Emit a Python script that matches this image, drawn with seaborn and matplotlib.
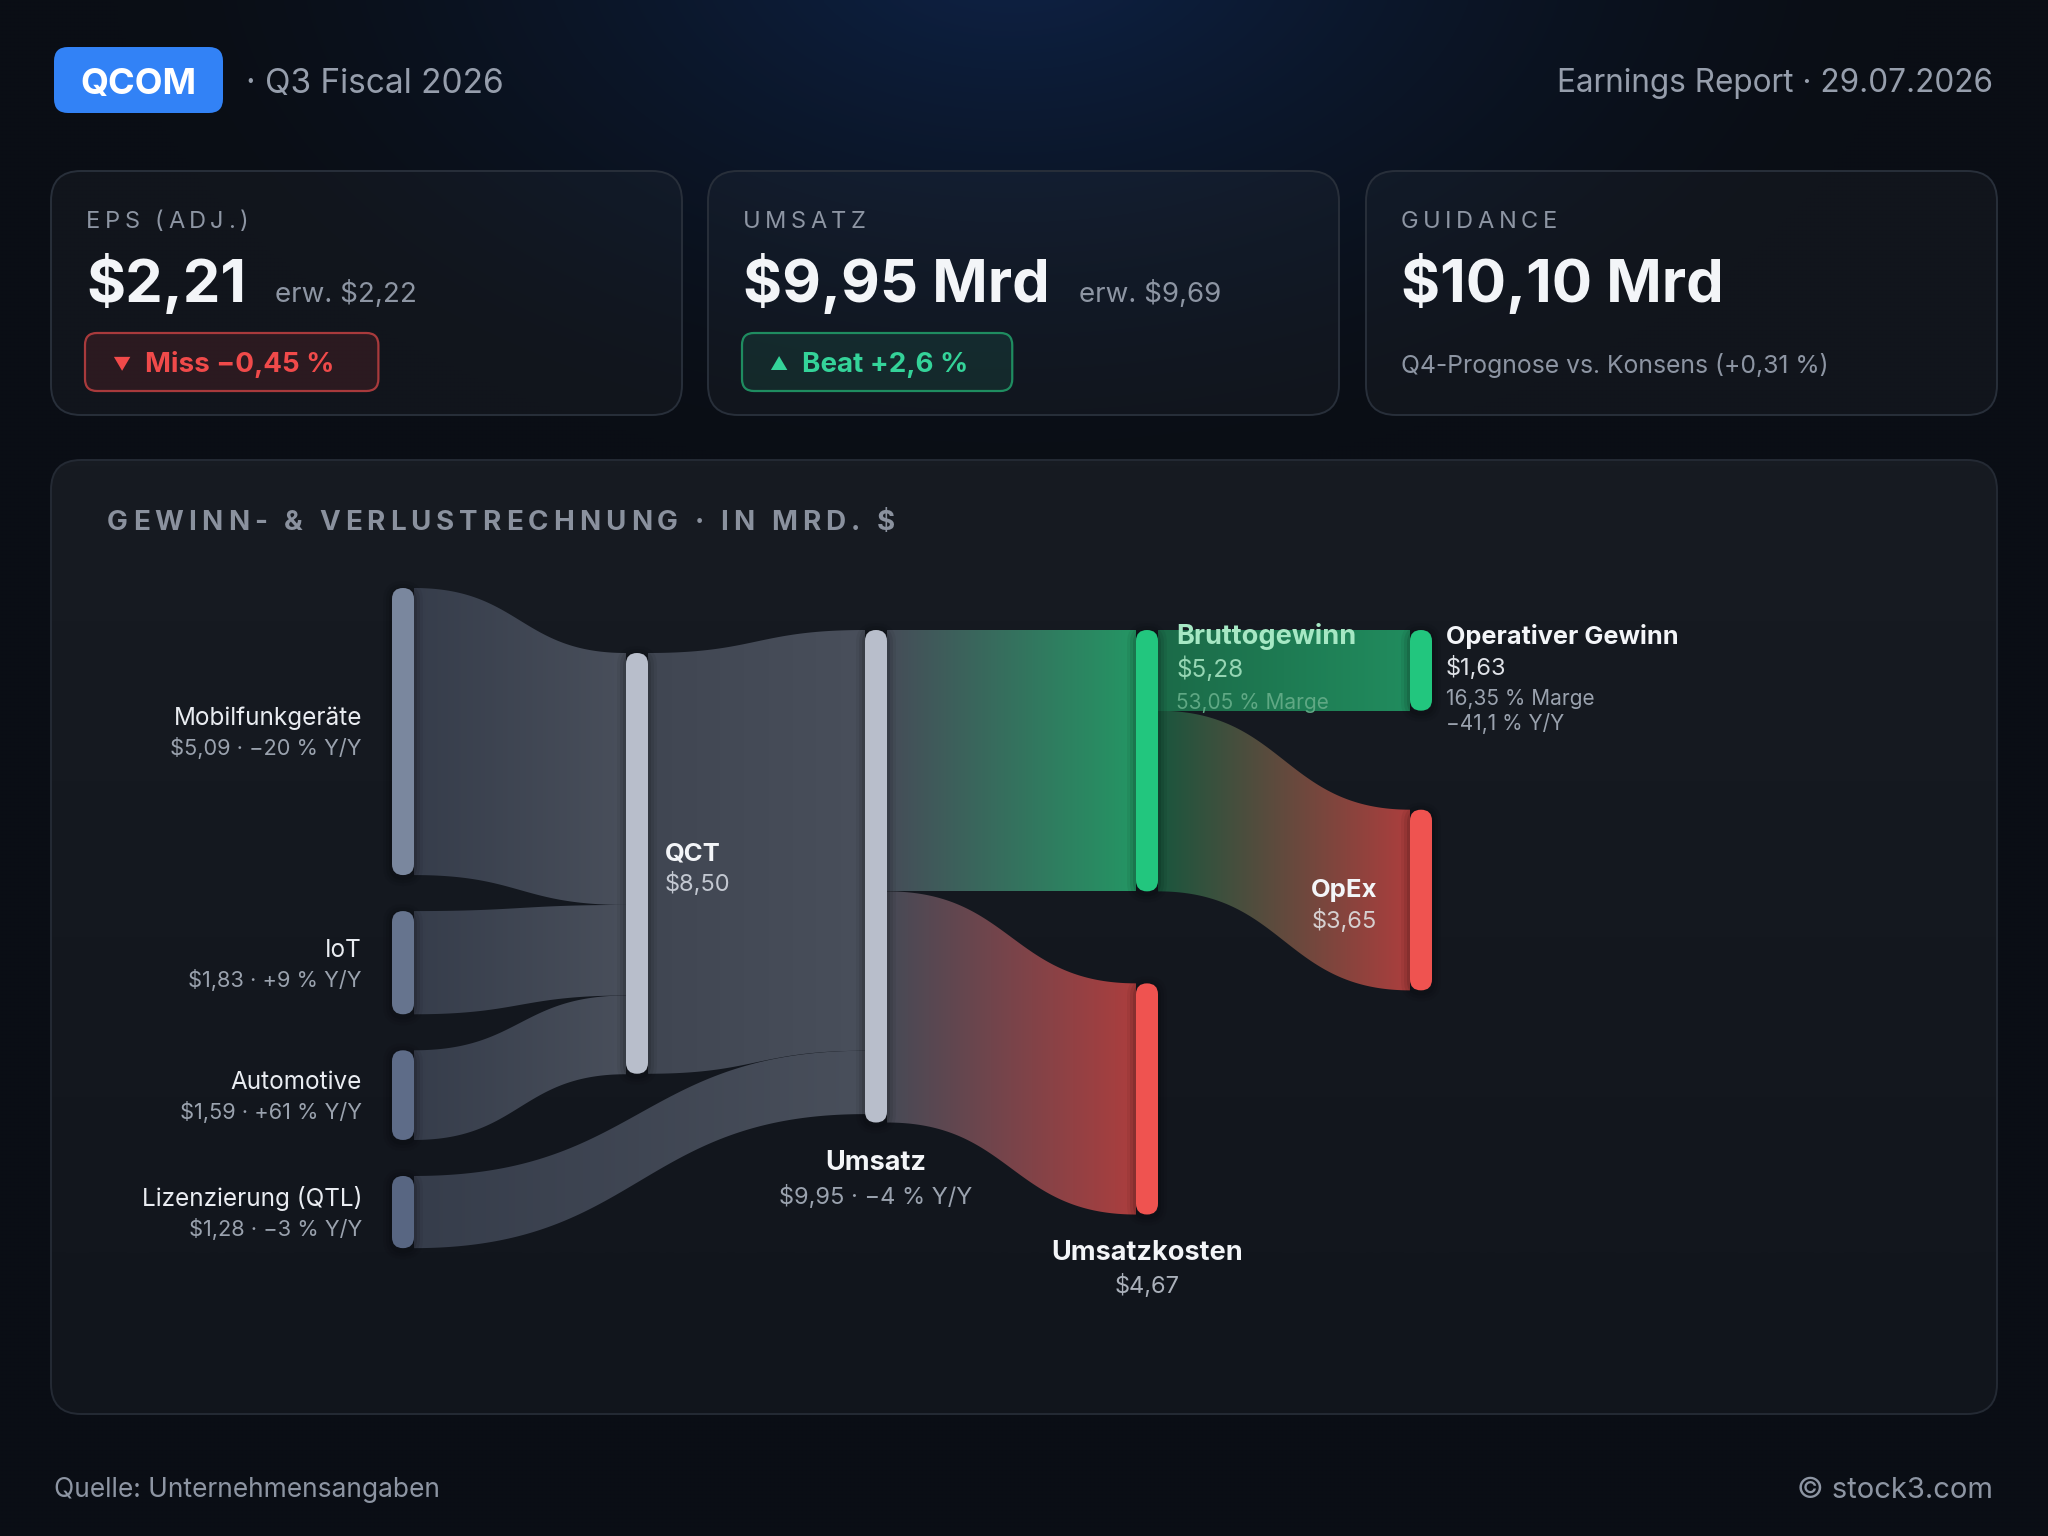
import numpy as np
import matplotlib
matplotlib.use("Agg")
import matplotlib.pyplot as plt
import seaborn as sns
from matplotlib.patches import FancyBboxPatch, Polygon
from matplotlib.font_manager import FontProperties

# ---------------- data ----------------
ticker = "QCOM"
period = "· Q3 Fiscal 2026"
report = "Earnings Report · 29.07.2026"

kpi_titles = ["EPS (ADJ.)", "UMSATZ", "GUIDANCE"]
kpi_values = ["$2,21", "$9,95 Mrd", "$10,10 Mrd"]
kpi_expected = ["erw. $2,22", "erw. $9,69", ""]
kpi_badge_text = ["Miss −0,45 %", "Beat +2,6 %", ""]
kpi_badge_kind = ["miss", "beat", ""]
guidance_note = "Q4-Prognose vs. Konsens (+0,31 %)"

panel_title = "GEWINN- & VERLUSTRECHNUNG · IN MRD. $"

segments = ["Mobilfunkgeräte", "IoT", "Automotive", "Lizenzierung (QTL)"]
segment_values = [5.09, 1.83, 1.59, 1.28]
segment_yoy = ["−20 % Y/Y", "+9 % Y/Y", "+61 % Y/Y", "−3 % Y/Y"]
segment_target = ["QCT", "QCT", "QCT", "Umsatz"]

qct_value = 8.50
revenue = 9.95
revenue_yoy = "−4 % Y/Y"
gross_profit = 5.28
gross_margin = "53,05 % Marge"
cost_of_revenue = 4.67
operating_profit = 1.63
operating_margin = "16,35 % Marge"
operating_yoy = "−41,1 % Y/Y"
opex = 3.65

source_note = "Quelle: Unternehmensangaben"
copyright_note = "© stock3.com"


def money(v):
    return ("$%.2f" % v).replace(".", ",")


# ---------------- style ----------------
sns.set_theme(style="dark")
FAM = ["Inter", "DejaVu Sans"]
plt.rcParams["font.family"] = FAM
plt.rcParams["axes.unicode_minus"] = False

W, H = 2048, 1536
fig = plt.figure(figsize=(W / 100, H / 100), dpi=100)
ax = fig.add_axes([0, 0, 1, 1])
ax.set_xlim(0, W)
ax.set_ylim(H, 0)
ax.axis("off")
ax.set_autoscale_on(False)
renderer = fig.canvas.get_renderer()
PT = 100 / 72.0

WHITE = "#f3f5f8"
GRAY = "#969eac"
LABEL = "#e9ecf1"
VAL = "#9aa2ae"


def c255(*c):
    return tuple(v / 255 for v in c)


# background with blue glow at the top
yy, xx = np.mgrid[0:H:4, 0:W:4]
base = np.array([10, 14, 21]) / 255
glow = np.array([14, 35, 72]) / 255
d = np.sqrt(((xx - 1010) / 900.0) ** 2 + ((yy + 60) / 540.0) ** 2)
wgt = np.clip(1 - d, 0, 1) ** 1.5
img = base[None, None, :] * (1 - wgt[..., None]) + glow[None, None, :] * wgt[..., None]
ax.imshow(img, extent=[0, W, H, 0], zorder=0, interpolation="bilinear", aspect="auto")


def text_width(s, size, weight="normal"):
    fp = FontProperties(family=FAM, size=size, weight=weight)
    w0 = renderer.get_text_width_height_descent("||", fp, ismath=False)[0]
    w1 = renderer.get_text_width_height_descent("|" + s + "|", fp, ismath=False)[0]
    return w1 - w0


def txt(x, y, s, size, color, weight="normal", ha="left", z=20, alpha=1):
    baseline = y + 0.727 * size * PT / 2
    return ax.text(x, baseline, s, fontsize=size, color=color, fontweight=weight,
                   ha=ha, va="baseline", zorder=z, parse_math=False, family=FAM, alpha=alpha)


def tracked(x, y, s, size, color, track_em, weight="normal"):
    cx = x
    tr = track_em * size * PT
    for ch in s:
        if ch != " ":
            txt(cx, y, ch, size, color, weight)
        cx += text_width(ch, size, weight) + tr


def rbox(x, y, w, h, r, fc="none", ec="none", lw=0, z=1, alpha=1):
    p = FancyBboxPatch((x, y), w, h, boxstyle="round,pad=0,rounding_size=%g" % r,
                       fc=fc, ec=ec, lw=lw, zorder=z, alpha=alpha)
    ax.add_patch(p)
    return p


def grad_fill(patch, x0, x1, y0, y1, c0, c1, z, alpha=1, vertical=False):
    cmap = sns.blend_palette([c0, c1], n_colors=256, as_cmap=True)
    g = np.linspace(0, 1, 256)
    g = g[:, None] if vertical else g[None, :]
    im = ax.imshow(g, cmap=cmap, vmin=0, vmax=1, extent=[x0, x1, y1, y0], aspect="auto",
                   zorder=z, interpolation="bilinear", alpha=alpha)
    im.set_clip_path(patch)


# ---------------- header ----------------
rbox(54, 47, 169, 66, 14, fc="#3282f6", z=5)
txt(138.5, 80.5, ticker, 26, "white", weight="bold", ha="center")
txt(246, 81, period, 24, GRAY)
txt(1993, 81, report, 22.7, GRAY, ha="right")

# ---------------- KPI cards ----------------
card_x = [51, 708, 1366]
card_w = 631
for i in range(3):
    x0 = card_x[i]
    rbox(x0, 171, card_w, 244, 30, fc="white", alpha=0.03, z=2)
    rbox(x0, 171, card_w, 244, 30, fc="none", ec=c255(40, 47, 58), lw=1.4, z=3)
    tx = x0 + 35
    tracked(tx, 219, kpi_titles[i], 17, "#8d95a3", 0.19)
    txt(tx, 280, kpi_values[i], 43, WHITE, weight="bold")
    if kpi_expected[i]:
        vw = text_width(kpi_values[i], 43, "bold")
        txt(tx + vw + 29, 292, kpi_expected[i], 20, "#8d95a3")
    if kpi_badge_kind[i]:
        miss = kpi_badge_kind[i] == "miss"
        col = "#f04a4a" if miss else "#34d399"
        bx = x0 + 34
        tw = text_width(kpi_badge_text[i], 20, "bold")
        bw = 60 + tw + 44
        rbox(bx, 333, bw, 58, 12, fc=("#ef4444" if miss else "#34d399"), alpha=(0.12 if miss else 0.10), z=4)
        rbox(bx, 333, bw, 58, 12, fc="none", ec=("#a83a3c" if miss else "#1f8c60"), lw=1.6, z=5)
        txt(bx + 27, 363, "▼" if miss else "▲", 13, col)
        txt(bx + 60, 362, kpi_badge_text[i], 20, col, weight="bold")
    else:
        txt(tx, 364, guidance_note, 17.8, "#8d95a3")

# ---------------- panel ----------------
panel = rbox(51, 460, 1946, 954, 30, fc="none", ec="none", z=2)
grad_fill(panel, 51, 1997, 460, 1414, c255(23, 27, 34), c255(17, 21, 28), 2, vertical=True)
rbox(51, 460, 1946, 954, 30, fc="none", ec=c255(36, 42, 52), lw=1.4, z=3)
tracked(107, 520, panel_title, 20, "#8a919e", 0.18, weight="bold")

# ---------------- sankey layout ----------------
K = 49.5          # px per $bn (main flow)
KL = 56.4         # px per $bn (segment column)
NW = 22
col_x = [392, 626, 865, 1136, 1410]
left_top, left_gap = 588, 36
qct_top, rev_top, col3_top, col3_gap, col4_top, col4_gap = 653, 630, 630, 92, 630, 99

seg_tops = []
y = left_top
for v in segment_values:
    seg_tops.append(y)
    y += v * KL + left_gap

qct_h = qct_value * K
rev_h = revenue * K
gp_top, gp_h = col3_top, gross_profit * K
cr_top, cr_h = col3_top + gp_h + col3_gap, cost_of_revenue * K
op_top, op_h = col4_top, operating_profit * K
ox_top, ox_h = col4_top + op_h + col4_gap, opex * K


def link(xs, xt, s_top, s_bot, t_top, t_bot, c0, c1, z=3):
    t = np.linspace(0, 1, 160)
    xm = (xs + xt) / 2
    bx = (1 - t) ** 3 * xs + 3 * (1 - t) ** 2 * t * xm + 3 * (1 - t) * t ** 2 * xm + t ** 3 * xt

    def by(a, b):
        return (1 - t) ** 3 * a + 3 * (1 - t) ** 2 * t * a + 3 * (1 - t) * t ** 2 * b + t ** 3 * b

    top, bot = by(s_top, t_top), by(s_bot, t_bot)
    verts = np.vstack([np.column_stack([bx, top]), np.column_stack([bx[::-1], bot[::-1]])])
    poly = Polygon(verts, closed=True, fc="none", ec="none", zorder=z)
    ax.add_patch(poly)
    grad_fill(poly, xs, xt, min(s_top, t_top) - 2, max(s_bot, t_bot) + 2, c0, c1, z)


LINK_L0 = c255(54, 61, 75)
LINK_G1 = c255(73, 79, 91)
GREEN_END = c255(36, 150, 100)
RED_END = c255(172, 62, 62)

# segment links
qct_off = qct_top
for i, v in enumerate(segment_values):
    s_top = seg_tops[i]
    s_bot = s_top + v * KL
    if segment_target[i] == "QCT":
        link(col_x[0] + NW, col_x[1], s_top, s_bot, qct_off, qct_off + v * K, LINK_L0, LINK_G1)
        qct_off += v * K
    else:
        t0 = rev_top + qct_h
        link(col_x[0] + NW, col_x[2], s_top, s_bot, t0, t0 + v * K, LINK_L0, LINK_G1)

# QCT -> Umsatz
link(col_x[1] + NW, col_x[2], qct_top, qct_top + qct_h, rev_top, rev_top + qct_h,
     c255(64, 70, 82), LINK_G1)
# Umsatz -> Bruttogewinn / Umsatzkosten
link(col_x[2] + NW, col_x[3], rev_top, rev_top + gp_h, gp_top, gp_top + gp_h,
     c255(70, 76, 88), GREEN_END)
link(col_x[2] + NW, col_x[3], rev_top + gp_h, rev_top + gp_h + cr_h, cr_top, cr_top + cr_h,
     c255(70, 74, 86), RED_END)
# Bruttogewinn -> OpEx / Operativer Gewinn
link(col_x[3] + NW, col_x[4], gp_top + op_h, gp_top + gp_h, ox_top, ox_top + ox_h,
     c255(25, 86, 61), RED_END)
link(col_x[3] + NW, col_x[4], gp_top, gp_top + op_h, op_top, op_top + op_h,
     c255(27, 106, 72), c255(33, 140, 94))


def node(x, top, h, color):
    for pad, a in [(9, 0.05), (6, 0.07), (3, 0.10)]:
        rbox(x - pad, top - pad + 2, NW + 2 * pad, h + 2 * pad, NW / 2 + pad, fc="black", alpha=a, z=6)
    rbox(x, top, NW, h, NW / 2, fc=color, z=7)


seg_colors = ["#7a879e", "#66748e", "#5e6c88", "#586682"]
for i, v in enumerate(segment_values):
    node(col_x[0], seg_tops[i], v * KL, seg_colors[i])
node(col_x[1], qct_top, qct_h, "#b8becb")
node(col_x[2], rev_top, rev_h, "#b8becb")
node(col_x[3], gp_top, gp_h, "#22c67e")
node(col_x[3], cr_top, cr_h, "#ef5350")
node(col_x[4], op_top, op_h, "#22c67e")
node(col_x[4], ox_top, ox_h, "#ef5350")

# ---------------- sankey labels ----------------
for i, v in enumerate(segment_values):
    c = seg_tops[i] + v * KL / 2
    txt(col_x[0] - 30, c - 15, segments[i], 17.5, LABEL, ha="right")
    txt(col_x[0] - 30, c + 16, money(v) + " · " + segment_yoy[i], 15.7, VAL, ha="right")

qc = qct_top + qct_h / 2
txt(col_x[1] + NW + 17, qc - 12.5, "QCT", 18.5, WHITE, weight="bold")
txt(col_x[1] + NW + 17, qc + 19.5, money(qct_value), 17, "#c3c8d1")

rc = col_x[2] + NW / 2
txt(rc, rev_top + rev_h + 37.5, "Umsatz", 19.5, WHITE, weight="bold", ha="center")
txt(rc, rev_top + rev_h + 72.5, money(revenue) + " · " + revenue_yoy, 17, VAL, ha="center")

lx3 = col_x[3] + NW + 18
txt(lx3, gp_top + 4, "Bruttogewinn", 19.5, "#a6e8c4", weight="bold")
txt(lx3, gp_top + 38, money(gross_profit), 17.5, "#96d6b4")
txt(lx3, gp_top + 71, gross_margin, 15, "#5fa884")

cc = col_x[3] + NW / 2
txt(cc, cr_top + cr_h + 36, "Umsatzkosten", 19.5, WHITE, weight="bold", ha="center")
txt(cc, cr_top + cr_h + 70, money(cost_of_revenue), 17, "#aab0ba", ha="center")

lx4 = col_x[4] + NW + 14
txt(lx4, op_top + 5, "Operativer Gewinn", 18.2, WHITE, weight="bold")
txt(lx4, op_top + 36, money(operating_profit), 17, "#dfe2e7")
txt(lx4, op_top + 67, operating_margin, 15, VAL)
txt(lx4, op_top + 92, operating_yoy, 15, VAL)

oc = ox_top + ox_h / 2
txt(col_x[4] - 33, oc - 12.5, "OpEx", 18.5, WHITE, weight="bold", ha="right")
txt(col_x[4] - 33, oc + 19.5, money(opex), 17, "#d6d0d0", ha="right")

# ---------------- footer ----------------
txt(54, 1487, source_note, 19, "#8d95a3")
txt(1993, 1487, copyright_note, 21, "#8d95a3", ha="right")

fig.savefig("out.png", dpi=100, facecolor=fig.get_facecolor())
